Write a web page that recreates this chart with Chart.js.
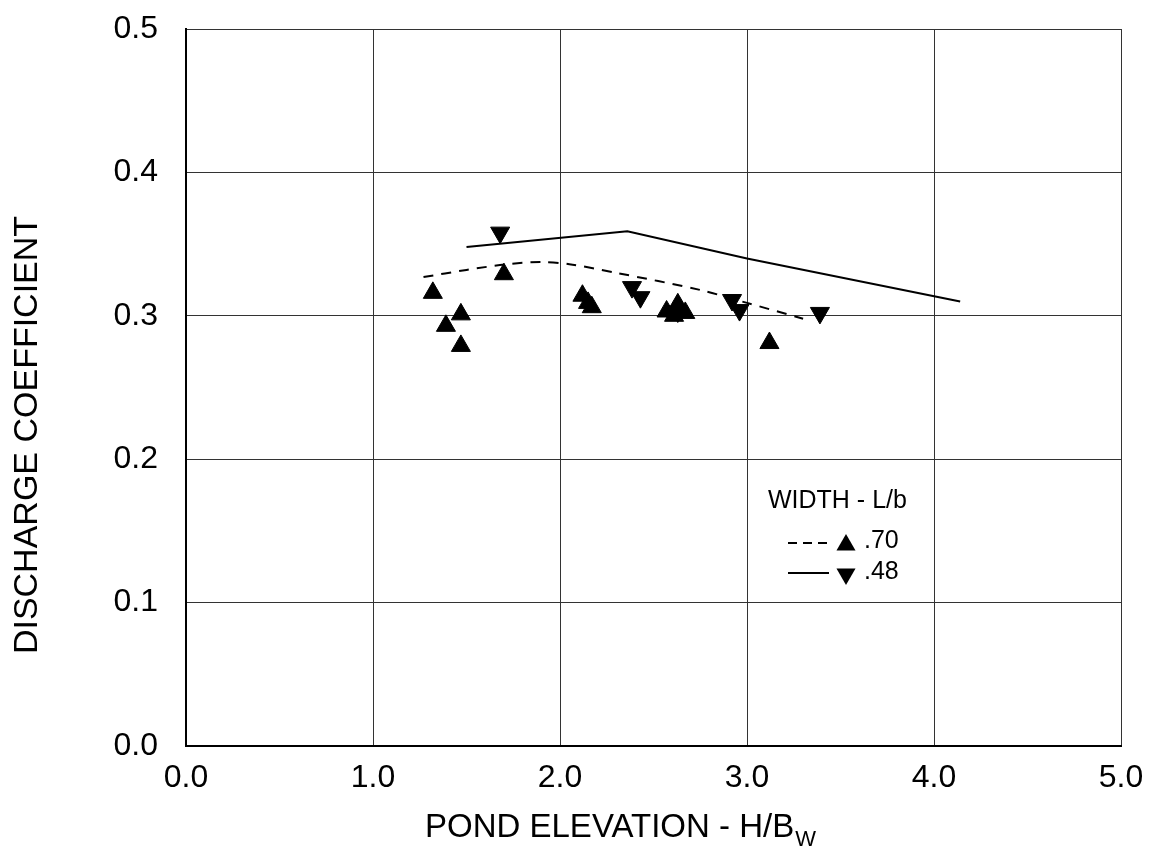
<!DOCTYPE html>
<html>
<head>
<meta charset="utf-8">
<script src="https://cdn.jsdelivr.net/npm/chart.js@4"></script>
<style>
  body { margin: 0; background: #fff; }
  #wrap { width: 1153px; height: 852px; }
</style>
</head>
<body>
<div id="wrap"><canvas id="dischargeChart" width="1153" height="852"></canvas></div>
<script>
// measured points, L/b = .70 (up triangles)
const up70X = [1.32, 1.39, 1.47, 1.47, 1.70, 2.12, 2.15, 2.17, 2.57, 2.61, 2.63, 2.67, 3.12];
const up70Y = [0.316, 0.293, 0.301, 0.279, 0.329, 0.314, 0.309, 0.306, 0.303, 0.300, 0.308, 0.302, 0.281];

// measured points, L/b = .48 (down triangles)
const down48X = [1.68, 2.385, 2.43, 2.92, 2.96, 3.39, 2.63];
const down48Y = [0.358, 0.320, 0.313, 0.311, 0.304, 0.302, 0.303];

// fitted curves
const curve70X = [1.27, 1.5, 1.72, 1.9, 2.05, 2.3, 2.75, 3.0, 3.3];
const curve70Y = [0.327, 0.332, 0.336, 0.3375, 0.336, 0.330, 0.318, 0.309, 0.298];
const curve48X = [1.5, 2.36, 3.0, 4.14];
const curve48Y = [0.348, 0.359, 0.340, 0.310];

const xTicks = [0, 1, 2, 3, 4, 5];
const yTicks = [0, 0.1, 0.2, 0.3, 0.4, 0.5];

const yTitle = "DISCHARGE COEFFICIENT";
const xTitle = "POND ELEVATION - H/B";
const xTitleSub = "W";
const legendTitle = "WIDTH - L/b";
const legendLabels = [".70", ".48"];

function toPoints(xs, ys) {
  return xs.map((x, i) => ({ x: x, y: ys[i] }));
}

const FONT = "'Liberation Sans', Arial, sans-serif";

// axis titles (x has a subscript) and the legend inside the plot
const extrasPlugin = {
  id: "extras",
  afterDraw(chart) {
    const ctx = chart.ctx;
    const area = chart.chartArea;
    ctx.save();
    ctx.fillStyle = "#000";
    ctx.textBaseline = "alphabetic";
    ctx.textAlign = "left";

    // x axis title
    ctx.font = "33px " + FONT;
    const tx = area.left + 239;
    ctx.fillText(xTitle, tx, 837);
    const w = ctx.measureText(xTitle).width;
    ctx.font = "22px " + FONT;
    ctx.fillText(xTitleSub, tx + w + 1, 846);

    // y axis title
    ctx.save();
    ctx.translate(28, 435);
    ctx.rotate(-Math.PI / 2);
    ctx.textAlign = "center";
    ctx.textBaseline = "middle";
    ctx.font = "34px " + FONT;
    ctx.fillText(yTitle, 0, 0);
    ctx.restore();

    // legend
    const lx = area.left + 582;
    ctx.font = "25px " + FONT;
    ctx.fillText(legendTitle, lx, 508);
    ctx.fillText(legendLabels[0], lx + 96, 548);
    ctx.fillText(legendLabels[1], lx + 96, 579);

    ctx.strokeStyle = "#000";
    ctx.lineWidth = 2;
    ctx.setLineDash([9, 6]);
    ctx.beginPath();
    ctx.moveTo(lx + 20, 543);
    ctx.lineTo(lx + 61, 543);
    ctx.stroke();
    ctx.setLineDash([]);
    ctx.beginPath();
    ctx.moveTo(lx + 20, 573);
    ctx.lineTo(lx + 61, 573);
    ctx.stroke();

    const cx = lx + 78;
    const r = 11;
    ctx.beginPath();
    ctx.moveTo(cx, 545 - r);
    ctx.lineTo(cx + r * 0.866, 545 + r / 2);
    ctx.lineTo(cx - r * 0.866, 545 + r / 2);
    ctx.closePath();
    ctx.fill();
    ctx.beginPath();
    ctx.moveTo(cx, 574 + r);
    ctx.lineTo(cx + r * 0.866, 574 - r / 2);
    ctx.lineTo(cx - r * 0.866, 574 - r / 2);
    ctx.closePath();
    ctx.fill();
    ctx.restore();
  },
};

const ctx = document.getElementById("dischargeChart").getContext("2d");
new Chart(ctx, {
  type: "scatter",
  data: {
    datasets: [
      {
        label: ".70",
        data: toPoints(up70X, up70Y),
        pointStyle: "triangle",
        pointRadius: 11,
        backgroundColor: "#000",
        borderColor: "#000",
        borderWidth: 1,
      },
      {
        label: ".48",
        data: toPoints(down48X, down48Y),
        pointStyle: "triangle",
        rotation: 180,
        pointRadius: 11,
        backgroundColor: "#000",
        borderColor: "#000",
        borderWidth: 1,
      },
      {
        label: ".70 fit",
        data: toPoints(curve70X, curve70Y),
        showLine: true,
        pointRadius: 0,
        borderColor: "#000",
        borderWidth: 2,
        borderDash: [10, 8],
        tension: 0.3,
      },
      {
        label: ".48 fit",
        data: toPoints(curve48X, curve48Y),
        showLine: true,
        pointRadius: 0,
        borderColor: "#000",
        borderWidth: 2,
      },
    ],
  },
  options: {
    responsive: false,
    animation: false,
    layout: { padding: { top: 29, right: 32, left: 0, bottom: 0 } },
    plugins: {
      legend: { display: false },
      tooltip: { enabled: false },
    },
    scales: {
      x: {
        type: "linear",
        min: 0,
        max: 5,
        afterBuildTicks: (scale) => {
          scale.ticks = xTicks.map((v) => ({ value: v }));
        },
        afterFit: (scale) => {
          scale.height = 106;
          scale.paddingLeft = 0;
          scale.paddingRight = 0;
        },
        ticks: {
          color: "#000",
          font: { family: FONT, size: 32 },
          padding: 13,
          callback: (v) => v.toFixed(1),
        },
        grid: { color: "#333", lineWidth: 1, drawTicks: false },
        border: { color: "#000", width: 2 },
      },
      y: {
        type: "linear",
        min: 0,
        max: 0.5,
        afterBuildTicks: (scale) => {
          scale.ticks = yTicks.map((v) => ({ value: v }));
        },
        afterFit: (scale) => {
          scale.width = 186;
          scale.paddingTop = 0;
          scale.paddingBottom = 0;
        },
        ticks: {
          color: "#000",
          font: { family: FONT, size: 32 },
          padding: 28,
          callback: (v) => v.toFixed(1),
        },
        grid: { color: "#333", lineWidth: 1, drawTicks: false },
        border: { color: "#000", width: 2 },
      },
    },
  },
  plugins: [extrasPlugin],
});
</script>
</body>
</html>
